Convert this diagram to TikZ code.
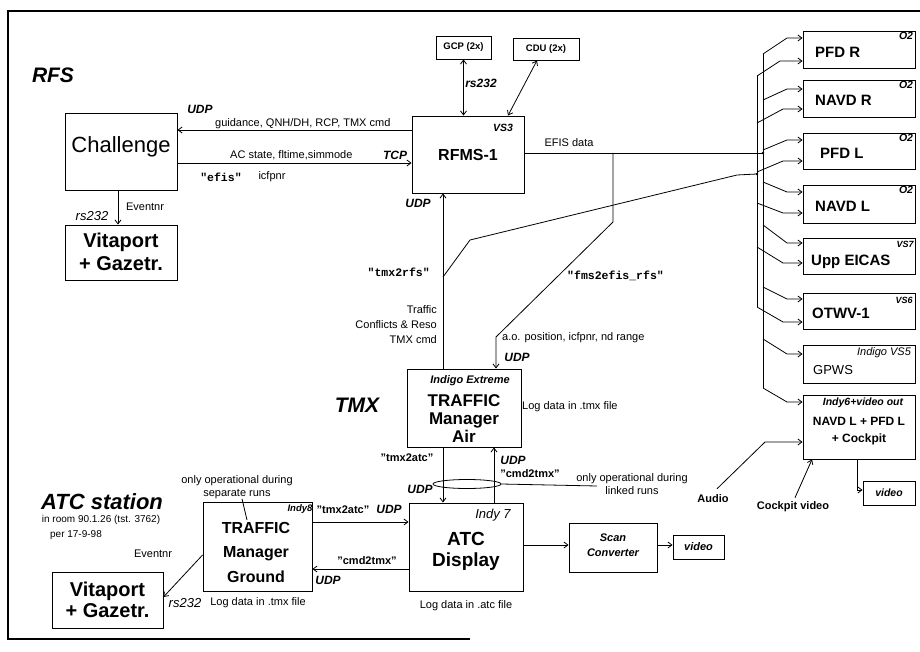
\documentclass[tikz,border=0pt]{standalone}
\usepackage{fontspec}
\setmainfont{Liberation Sans}
\setmonofont{Liberation Mono}
\usetikzlibrary{arrows.meta,shapes.geometric}
\newcommand\myfs[2]{\fontsize{#1}{#2}\selectfont}
\tikzset{
  box/.style={draw, line width=0.9pt, inner sep=0pt},
  disp/.style={box, minimum width=112pt},
  lbl/.style={inner sep=0pt, font=\myfs{11}{13}},
  lblb/.style={inner sep=0pt, font=\bfseries\myfs{11}{13}},
  qb/.style={inner sep=0pt, font=\bfseries\myfs{11}{13}},
  mono/.style={inner sep=0pt, font=\ttfamily\bfseries\myfs{11.5}{13}},
  udp/.style={inner sep=0pt, font=\bfseries\itshape\myfs{12}{14}},
  tagsm/.style={inner sep=0pt, font=\bfseries\itshape\myfs{10.5}{13}},
  big/.style={inner sep=0pt, font=\bfseries\itshape\myfs{21}{24}},
  dname/.style={inner sep=0pt, font=\bfseries\myfs{15}{17}, anchor=base west},
  arr/.style={-{Straight Barb[length=4pt,width=6pt]}, line width=0.8pt},
  darr/.style={{Straight Barb[length=4pt,width=6pt]}-{Straight Barb[length=4pt,width=6pt]}, line width=0.8pt},
  ln/.style={line width=0.8pt}
}
\begin{document}
\begin{tikzpicture}[x=1pt,y=-1pt]
\useasboundingbox (0,0) rectangle (920,652);
% frame
\draw[line width=1.4pt] (920,11) -- (8,11) -- (8,639) -- (470,639);

% ---------- boxes ----------
\node[box, minimum width=112pt, minimum height=77pt] (chal) at (121,151.5) {};
\node[box, minimum width=112pt, minimum height=55pt] (vita1) at (121,252.5) {};
\node[box, minimum width=112pt, minimum height=77pt] (rfms) at (468,154.5) {};
\node[box, minimum width=55pt, minimum height=23pt] (gcp) at (463.5,47.5) {};
\node[box, minimum width=66pt, minimum height=22pt] (cdu) at (546,49) {};
\node[disp, minimum height=37pt] (pfdr) at (859,49.5) {};
\node[disp, minimum height=37pt] (navdr) at (859,98.5) {};
\node[disp, minimum height=36pt] (pfdl) at (859,151) {};
\node[disp, minimum height=38pt] (navdl) at (859,204) {};
\node[disp, minimum height=36pt] (eicas) at (859,256) {};
\node[disp, minimum height=36pt] (otwv) at (859,311) {};
\node[disp, minimum height=38pt] (gpws) at (859,364) {};
\node[disp, minimum height=64pt] (indy6) at (859,427) {};
\node[box, minimum width=52pt, minimum height=24pt] (vid1) at (889,493) {};
\node[box, minimum width=114pt, minimum height=78pt] (tma) at (464,408) {};
\node[box, minimum width=114pt, minimum height=88pt] (atc) at (466,547) {};
\node[box, minimum width=109pt, minimum height=89pt] (tmg) at (257.5,546.5) {};
\node[box, minimum width=88pt, minimum height=49pt] (scan) at (613,547.5) {};
\node[box, minimum width=51pt, minimum height=24pt] (vid2) at (698.5,547) {};
\node[box, minimum width=111pt, minimum height=56pt] (vita2) at (107.5,600) {};

% ---------- box texts ----------
\node[inner sep=0pt, font=\myfs{22}{24}, anchor=base] (chalT) at (121,153) {Challenge};
\node[inner sep=0pt, font=\bfseries\myfs{20}{23}, align=center] (vita1T) at (121,252) {Vitaport\\+ Gazetr.};
\node[inner sep=0pt, font=\bfseries\myfs{16}{18}, anchor=base] (rfmsT) at (468,161) {RFMS-1};
\node[tagsm] (vs3) at (503,128) {VS3};
\node[inner sep=0pt, font=\bfseries\myfs{9.5}{11}] (gcpT) at (gcp) {GCP (2x)};
\node[inner sep=0pt, font=\bfseries\myfs{9.5}{11}] (cduT) at (cdu) {CDU (2x)};
\node[dname] (pfdrT) at (815,57.4) {PFD R};
\node[dname] (navdrT) at (815,105.4) {NAVD R};
\node[dname] (pfdlT) at (820,158.4) {PFD L};
\node[dname] (navdlT) at (815,211.4) {NAVD L};
\node[dname] (eicasT) at (811,265.4) {Upp EICAS};
\node[dname] (otwvT) at (812,318.4) {OTWV-1};
\node[inner sep=0pt, font=\myfs{13}{15}, anchor=base west] (gpwsT) at (813,374.6) {GPWS};
\node[inner sep=0pt, font=\bfseries\myfs{12}{16.5}, align=center] (indy6T) at (859,431) {NAVD L + PFD L\\+ Cockpit};
\node[tagsm] (o2a) at (906,36) {O2};
\node[tagsm] (o2b) at (906,85) {O2};
\node[tagsm] (o2c) at (906,138) {O2};
\node[tagsm] (o2d) at (906,190) {O2};
\node[tagsm, font=\bfseries\itshape\myfs{9}{11}] (vs7) at (905,244) {VS7};
\node[tagsm, font=\bfseries\itshape\myfs{9}{11}] (vs6) at (904,300) {VS6};
\node[inner sep=0pt, font=\itshape\myfs{11}{13}] (vs5) at (884,353) {Indigo VS5};
\node[tagsm] (i6) at (863,403) {Indy6+video out};
\node[tagsm] (vid1T) at (vid1) {video};
\node[tagsm, font=\bfseries\itshape\myfs{11}{13}] (ie) at (470,381) {Indigo Extreme};
\node[inner sep=0pt, font=\bfseries\myfs{17}{18}, align=center] (tmaT) at (464,418.5) {TRAFFIC\\Manager\\Air};
\node[inner sep=0pt, font=\itshape\myfs{13}{15}] (i7) at (493,515) {Indy 7};
\node[inner sep=0pt, font=\bfseries\myfs{19}{21}, align=center] (atcT) at (466,551.5) {ATC\\Display};
\node[tagsm, font=\bfseries\itshape\myfs{9.5}{11}] (i8) at (300,509) {Indy8};
\node[inner sep=0pt, font=\bfseries\myfs{16}{24.5}, align=center] (tmgT) at (256,552) {TRAFFIC\\Manager\\Ground};
\node[tagsm, font=\bfseries\itshape\myfs{11}{15}, align=center] (scanT) at (613,545) {Scan\\Converter};
\node[tagsm, font=\bfseries\itshape\myfs{11}{13}] (vid2T) at (vid2) {video};
\node[inner sep=0pt, font=\bfseries\myfs{20}{21}, align=center] (vita2T) at (107.5,600) {Vitaport\\+ Gazetr.};

% ---------- free labels ----------
\node[big] (rfsT) at (53,75) {RFS};
\node[big] (tmxT) at (357,405) {TMX};
\node[big, font=\bfseries\itshape\myfs{22}{24}] (atcs) at (102,502) {ATC station};
\node[lbl, font=\myfs{10}{12}] (room) at (101,520) {in room 90.1.26 (tst. 3762)};
\node[lbl, font=\myfs{10}{12}] (per) at (76,535) {per 17-9-98};

\node[udp] (u1) at (200,109) {UDP};
\node[lbl, anchor=base west] (g1) at (215,127) {guidance, QNH/DH, RCP, TMX cmd};
\node[lbl, anchor=base west] (g2) at (230,159) {AC state, fltime,simmode};
\node[udp] (u2) at (395,155) {TCP};
\node[mono] (e1) at (221,177) {"efis"};
\node[lbl] (ic) at (272,177) {icfpnr};
\node[lbl] (ev1) at (145,207) {Eventnr};
\node[inner sep=0pt, font=\itshape\myfs{13}{15}] (rs2) at (92,216) {rs232};
\node[udp] (rs1) at (481,83) {rs232};
\node[lbl] (efisd) at (569,143) {EFIS data};
\node[udp] (u3) at (418,203) {UDP};
\node[mono, anchor=east] (t2r) at (430,272) {"tmx2rfs"};
\node[lbl, align=right, anchor=east, font=\myfs{11}{15}] (trf) at (437,325) {Traffic\\Conflicts \& Reso\\TMX cmd};
\node[mono, anchor=west] (f2e) at (567,276) {"fms2efis\_rfs"};
\node[lbl, anchor=west] (aop) at (502,338) {a.o. position, icfpnr, nd range};
\node[udp] (u4) at (517,357) {UDP};
\node[lbl, anchor=west] (ldt) at (522,407) {Log data in .tmx file};
\node[qb] (q1) at (407,458) {\symbol{34}tmx2atc\symbol{34}};
\node[udp] (u5) at (513,460) {UDP};
\node[qb] (q2) at (530,474) {\symbol{34}cmd2tmx\symbol{34}};
\node[lbl, align=center] (oo1) at (632,484) {only operational during\\linked runs};
\node[udp] (u6) at (420,489) {UDP};
\node[lbl] (lda) at (466,606) {Log data in .atc file};
\node[qb] (q3) at (343,510) {\symbol{34}tmx2atc\symbol{34}};
\node[udp] (u7) at (389,509) {UDP};
\node[qb] (q4) at (367,561) {\symbol{34}cmd2tmx\symbol{34}};
\node[udp] (u8) at (328,580) {UDP};
\node[lbl, align=center] (oo2) at (237,487) {only operational during\\separate runs};
\node[lbl] (ev2) at (153,554) {Eventnr};
\node[inner sep=0pt, font=\itshape\myfs{13}{15}] (rs3) at (185,603) {rs232};
\node[lbl] (ldt2) at (258,603) {Log data in .tmx file};
\node[lblb] (aud) at (713,499) {Audio};
\node[lblb] (cv) at (793,507) {Cockpit video};

% ---------- coordinates ----------
\coordinate (bRtop) at (763,54);
\coordinate (bRbot) at (763,388);
\coordinate (bLtop) at (757,76);
\coordinate (bLbot) at (757,307);
\coordinate (efisJ) at (763,153);
\coordinate (fmsJ) at (613,153);
\coordinate (tmxJ) at (443,277);
\coordinate (tmxB) at (757,174);

% ---------- connectors ----------
\draw[arr] (rfms.west |- 0,130) -- (chal.east |- 0,130);
\draw[arr] (chal.east |- 0,163) -- (rfms.west |- 0,163);
\draw[arr] (chal.south -| 118,0) -- (vita1.north -| 118,0);
\draw[darr] (gcp.south) -- (rfms.north -| gcp.south);
\draw[darr] ([xshift=-9pt]cdu.south) -- ([xshift=40pt]rfms.north);
\draw[ln] (rfms.east |- efisJ) -- (efisJ);
\fill (efisJ) circle (1.3pt);
\draw[arr] (fmsJ) -- (613,222) -- (496,337) -- (tma.north -| 496,0);
\draw[arr] (tma.north -| tmxJ) -- (rfms.south -| tmxJ);
\draw[ln] (tmxJ) -- (470,240) -- (737,175) -- (tmxB);
\fill (tmxB) circle (1.3pt);
% bus
\draw[ln] (bRtop) -- (bRbot);
\draw[ln] (bLtop) -- (bLbot);
% branches
\draw[arr] (bRtop) -- (787,38) -- (pfdr.west |- 0,38);
\draw[arr] (bLtop) -- (780,61) -- (pfdr.west |- 0,61);
\draw[arr] (763,100) -- (787,89) -- (navdr.west |- 0,89);
\draw[arr] (757,123) -- (783,109) -- (navdr.west |- 0,109);
\draw[arr] (763,150) -- (787,140) -- (pfdl.west |- 0,140);
\draw[arr] (757,172) -- (783,161) -- (pfdl.west |- 0,161);
\draw[arr] (763,182) -- (787,192) -- (navdl.west |- 0,192);
\draw[arr] (757,203) -- (783,213) -- (navdl.west |- 0,213);
\draw[arr] (763,225) -- (787,243) -- (eicas.west |- 0,243);
\draw[arr] (757,247) -- (783,263) -- (eicas.west |- 0,263);
\draw[arr] (763,287) -- (787,299) -- (otwv.west |- 0,299);
\draw[arr] (bLbot) -- (783,322) -- (otwv.west |- 0,322);
\draw[arr] (763,339) -- (787,354) -- (gpws.west |- 0,354);
\draw[arr] (bRbot) -- (787,402) -- (indy6.west |- 0,402);
% indy6 surroundings
\draw[arr] (indy6.south -| 857,0) -- (857,490) -- (vid1.west |- 0,490);
\draw[arr] ([xshift=4pt,yshift=6pt]aud.north) -- (765,442) -- (indy6.west |- 0,442);
\draw[arr] ([xshift=2pt,yshift=4pt]cv.north) -- (indy6.south -| 812,0);
% TMA - ATC
\draw[arr] (tma.south -| 443,0) -- (atc.north -| 443,0);
\draw[arr] (atc.north -| 494,0) -- (tma.south -| 494,0);
\node[draw, ellipse, line width=0.8pt, inner sep=0pt, minimum width=68pt, minimum height=9pt] (lens) at (467,484) {};
\draw[ln] (lens.east) -- (597,486);
% TMG - ATC
\draw[arr] (tmg.east |- 0,522) -- (atc.west |- 0,522);
\draw[arr] (atc.west |- 0,569) -- (tmg.east |- 0,569);
\draw[arr] (tmg.west |- 0,555) -- (vita2.east |- 0,597);
\draw[ln] ([xshift=5pt]oo2.south) -- (247,520);
% ATC - scan - video
\draw[arr] (atc.east |- 0,545) -- (scan.west |- 0,545);
\draw[arr] (scan.east |- 0,545) -- (vid2.west |- 0,545);
\end{tikzpicture}
\end{document}
